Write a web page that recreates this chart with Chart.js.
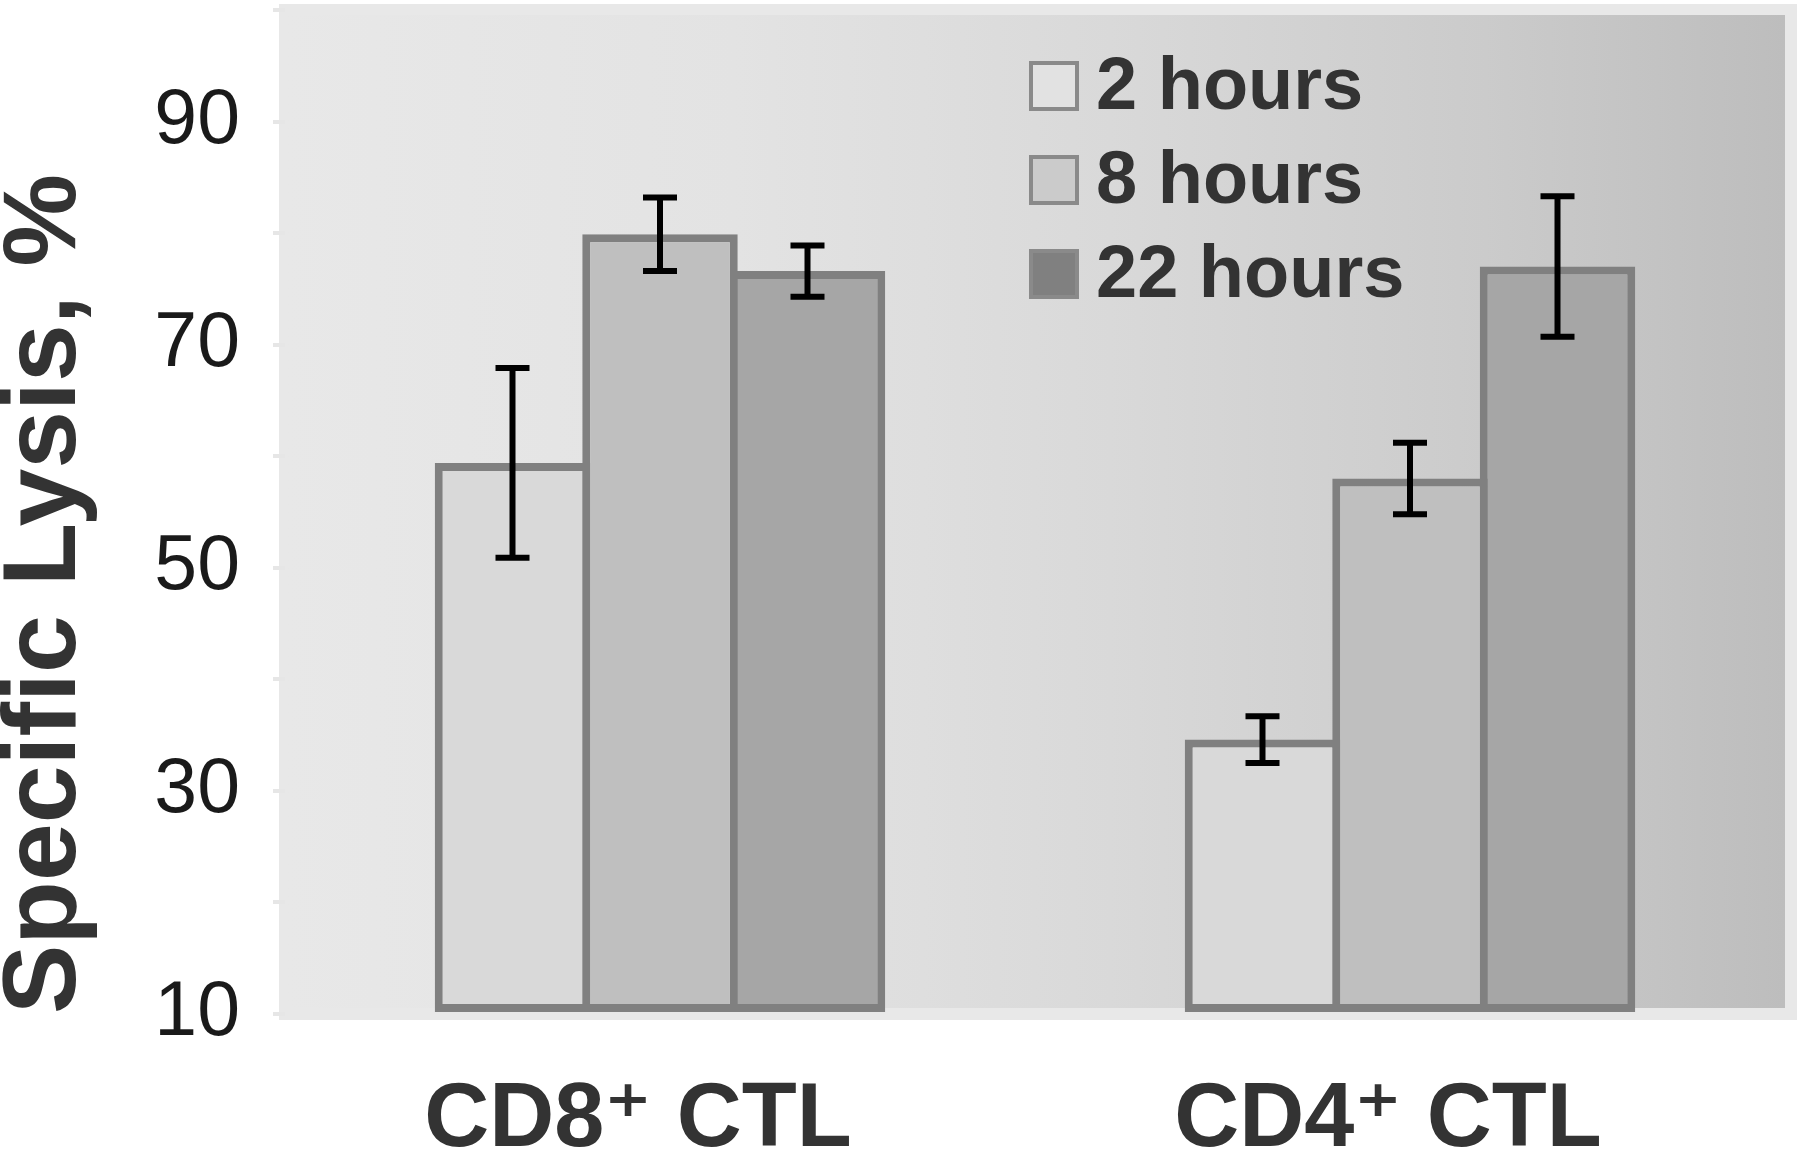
<!DOCTYPE html>
<html>
<head>
<meta charset="utf-8">
<style>
  html, body { margin: 0; padding: 0; background: #ffffff; }
  #wrap { width: 1800px; height: 1152px; }
</style>
<script src="https://cdn.jsdelivr.net/npm/chart.js@4.4.1/dist/chart.umd.min.js"></script>
</head>
<body>
<div id="wrap"><canvas id="c" width="1800" height="1152"></canvas></div>
<script>
// ---- data ----
const categories = ['CD8\u207A CTL', 'CD4\u207A CTL'];
const seriesLabels = ['2 hours', '8 hours', '22 hours'];
const lysis2h = [59.4, 34.6];
const lysis8h = [79.9, 58.0];
const lysis22h = [76.6, 77.0];
const err2h = [8.5, 2.1];
const err8h = [3.3, 3.2];
const err22h = [2.3, 6.3];
const yTickLabels = [10, 30, 50, 70, 90];
const yTitle = 'Specific Lysis, %';

// ---- styles ----
const FONT = "'Liberation Sans', Arial, 'DejaVu Sans', sans-serif";
const barFills = ['#d9d9d9', '#bfbfbf', '#a6a6a6'];
const legendFills = ['#e2e2e2', '#cbcbcb', '#808080'];
const barBorder = '#808080';
const BW = 8;

const seriesValues = [lysis2h, lysis8h, lysis22h];
const seriesErrors = [err2h, err8h, err22h];

const bgPlugin = {
  id: 'bgPlugin',
  beforeDraw(chart) {
    const ctx = chart.ctx;
    const a = chart.chartArea;
    ctx.save();
    ctx.fillStyle = '#ffffff';
    ctx.fillRect(0, 0, chart.width, chart.height);
    ctx.fillStyle = '#e8e8e8';
    ctx.fillRect(a.left - 6, a.top - 6, (a.right + 12) - (a.left - 6), (a.bottom + 6) - (a.top - 6));
    const g = ctx.createLinearGradient(a.left, 0, a.right, 0);
    g.addColorStop(0, '#e8e8e8');
    g.addColorStop(0.3, '#e3e3e3');
    g.addColorStop(0.55, '#d9d9d9');
    g.addColorStop(0.8, '#cbcbcb');
    g.addColorStop(1, '#bdbdbd');
    ctx.fillStyle = g;
    ctx.fillRect(a.left, a.top + 5, a.right - a.left, (a.bottom - 6) - (a.top + 5));
    ctx.restore();
  }
};

const errorBarPlugin = {
  id: 'errorBarPlugin',
  afterDatasetsDraw(chart) {
    const ctx = chart.ctx;
    const yScale = chart.scales.y;
    ctx.save();
    ctx.strokeStyle = '#000000';
    ctx.lineWidth = 6;
    ctx.lineCap = 'butt';
    chart.data.datasets.forEach((ds, di) => {
      const meta = chart.getDatasetMeta(di);
      meta.data.forEach((el, i) => {
        const v = ds.data[i];
        const e = seriesErrors[di][i];
        const x = el.x;
        const yT = yScale.getPixelForValue(v + e);
        const yB = yScale.getPixelForValue(v - e);
        ctx.beginPath();
        ctx.moveTo(x, yT); ctx.lineTo(x, yB);
        ctx.moveTo(x - 17, yT); ctx.lineTo(x + 17, yT);
        ctx.moveTo(x - 17, yB); ctx.lineTo(x + 17, yB);
        ctx.stroke();
      });
    });
    ctx.restore();
  }
};

const legendPlugin = {
  id: 'legendPlugin',
  afterDraw(chart) {
    const ctx = chart.ctx;
    ctx.save();
    const rowsY = [86, 180, 274];
    chart.data.datasets.forEach((ds, i) => {
      const cy = rowsY[i];
      ctx.fillStyle = legendFills[i];
      ctx.fillRect(1031, cy - 23, 46, 46);
      ctx.strokeStyle = '#8a8a8a';
      ctx.lineWidth = 4;
      ctx.strokeRect(1031, cy - 23, 46, 46);
      ctx.fillStyle = '#333333';
      ctx.font = 'bold 74px ' + FONT;
      ctx.textAlign = 'left';
      ctx.textBaseline = 'middle';
      ctx.fillText(ds.label, 1096, cy + 3);
    });
    ctx.restore();
  }
};

const datasets = seriesLabels.map((lab, i) => ({
  label: lab,
  data: seriesValues[i],
  base: 10,
  backgroundColor: barFills[i],
  borderColor: barBorder,
  borderWidth: BW,
  borderSkipped: false,
  categoryPercentage: 0.59,
  barPercentage: 1 + BW / 147.5
}));

new Chart(document.getElementById('c'), {
  type: 'bar',
  data: { labels: categories, datasets },
  plugins: [bgPlugin, errorBarPlugin, legendPlugin],
  options: {
    responsive: false,
    animation: false,
    devicePixelRatio: 1,
    layout: { padding: { left: 0, right: 15, top: 10, bottom: 0 } },
    plugins: { legend: { display: false }, tooltip: { enabled: false } },
    scales: {
      x: {
        grid: { display: false, drawTicks: false, tickLength: 0 },
        border: { display: false },
        ticks: {
          color: '#333333',
          padding: 53,
          labelOffset: -22,
          font: { family: FONT, size: 90, weight: 'bold' }
        },
        afterFit(s) { s.height = 138; s.paddingLeft = 0; s.paddingRight = 0; }
      },
      y: {
        min: 10,
        max: 100,
        grid: { drawOnChartArea: false, drawTicks: true, tickLength: 12, color: '#e6e6e6', lineWidth: 4 },
        border: { display: false },
        ticks: {
          stepSize: 10,
          padding: 33,
          color: '#1a1a1a',
          font: { family: FONT, size: 77 },
          callback: (v) => yTickLabels.includes(v) ? String(v) : ''
        },
        title: {
          display: true,
          text: yTitle,
          align: 'start',
          color: '#333333',
          padding: 0,
          font: { family: FONT, size: 104, weight: 'bold', lineHeight: 0.9 }
        },
        afterFit(s) { s.width = 285; s.paddingTop = 0; s.paddingBottom = 0; }
      }
    }
  }
});
</script>
</body>
</html>
